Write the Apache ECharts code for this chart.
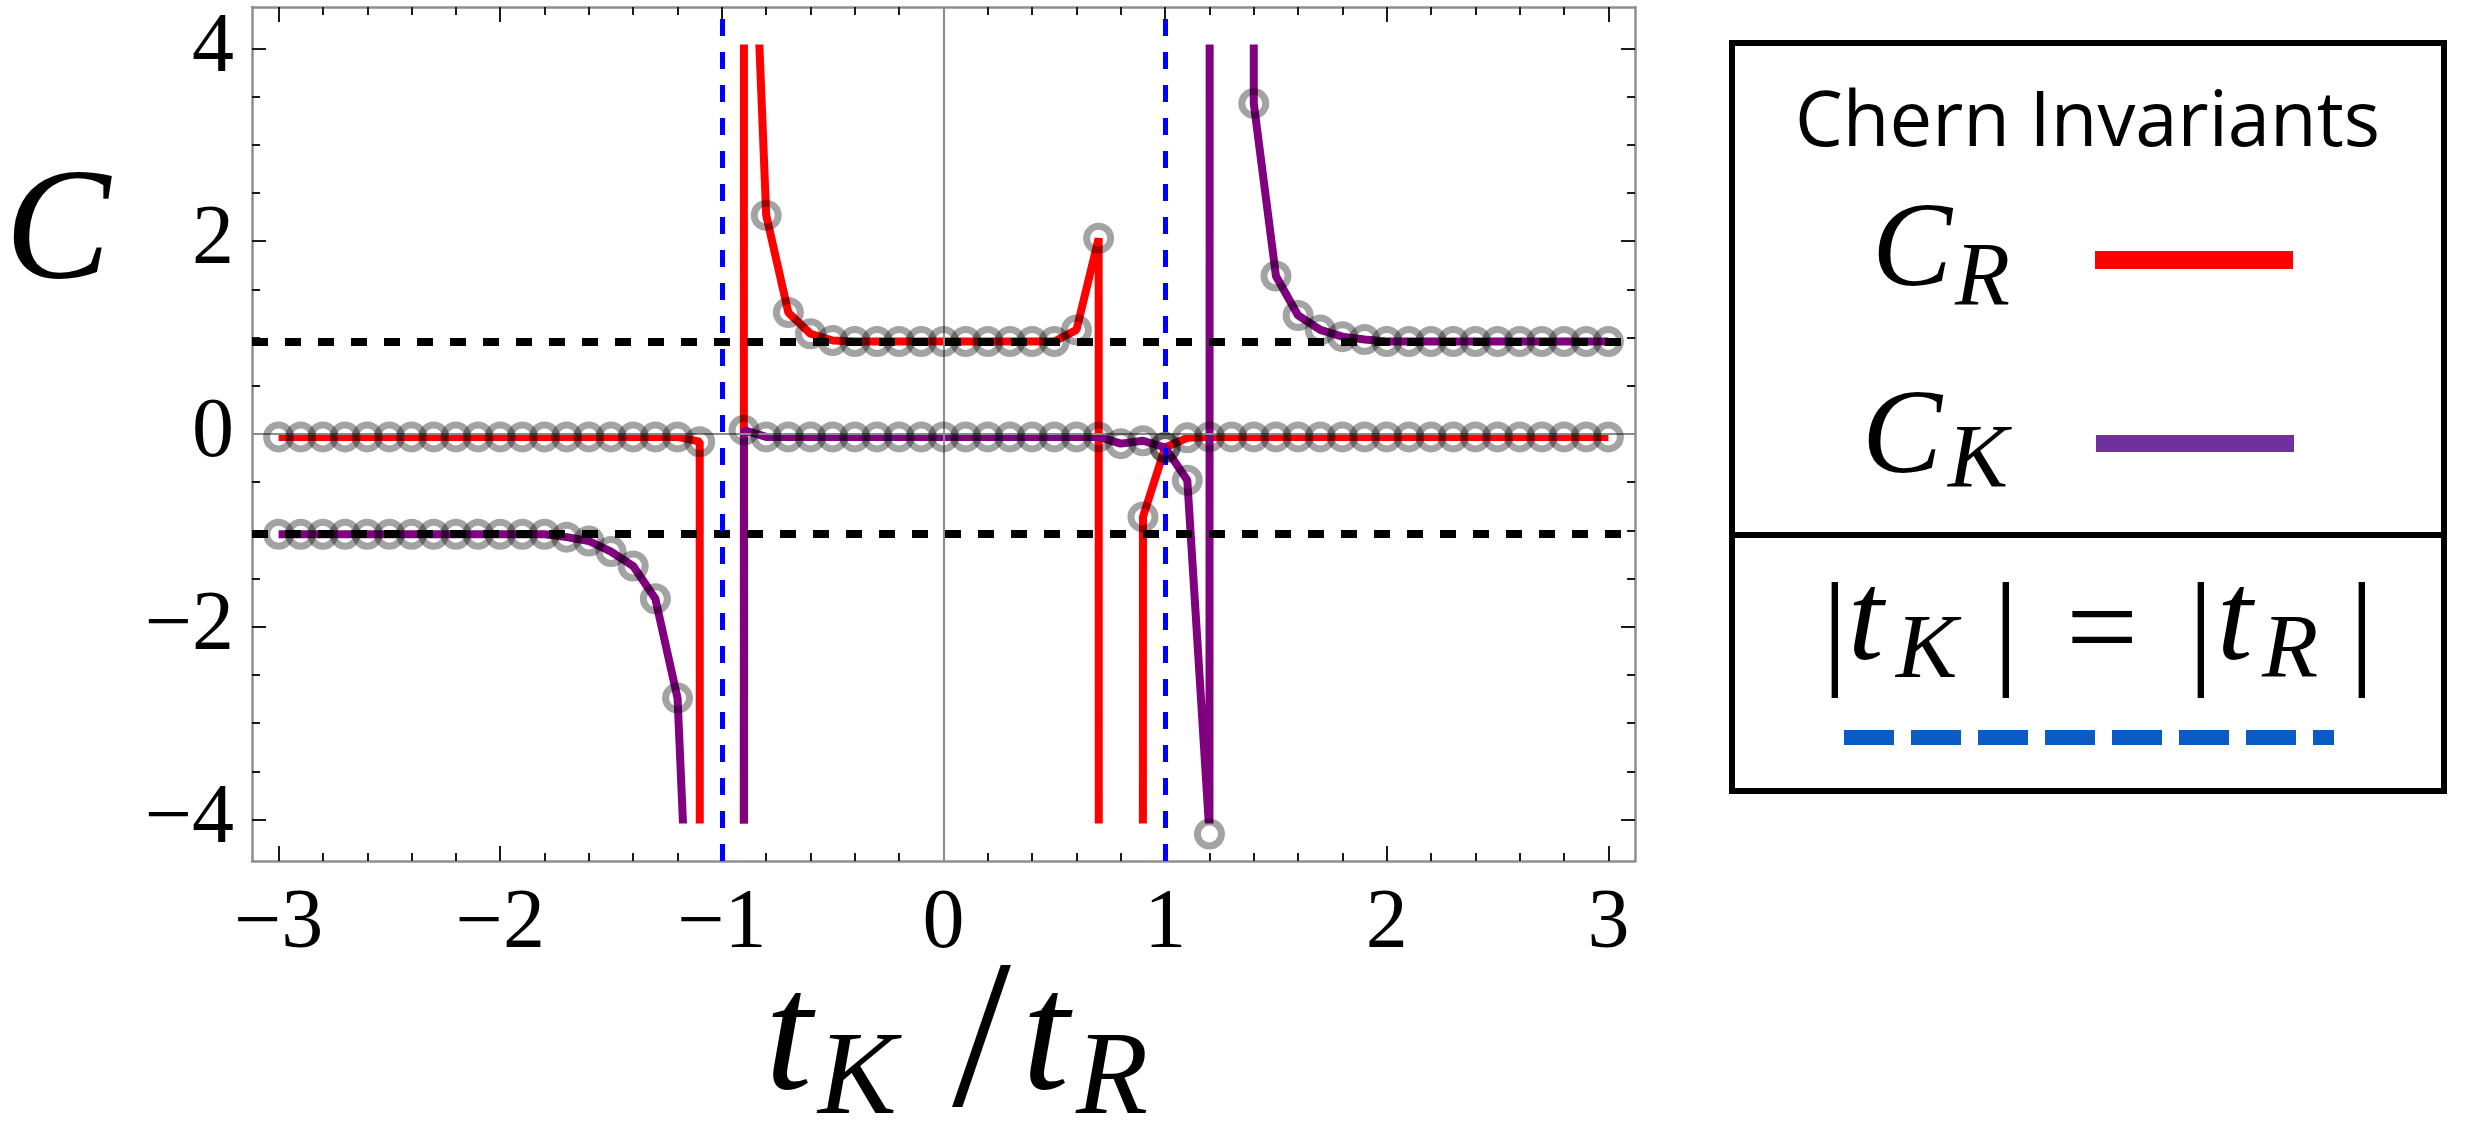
<!DOCTYPE html>
<html>
<head>
<meta charset="utf-8">
<title>Chern invariants</title>
<script src="https://cdn.jsdelivr.net/npm/echarts@6/dist/echarts.min.js"></script>
<style>
  html, body { margin: 0; padding: 0; background: #fff; }
  #chart { width: 2475px; height: 1133px; }
</style>
</head>
<body>
<div id="chart"></div>
<script>
// t_K / t_R, one point every 0.1
var ratio = [-3.0, -2.9, -2.8, -2.7, -2.6, -2.5, -2.4, -2.3, -2.2, -2.1,
             -2.0, -1.9, -1.8, -1.7, -1.6, -1.5, -1.4, -1.3, -1.2, -1.1,
             -1.0, -0.9, -0.8, -0.7, -0.6, -0.5, -0.4, -0.3, -0.2, -0.1,
              0.0,  0.1,  0.2,  0.3,  0.4,  0.5,  0.6,  0.7,  0.8,  0.9,
              1.0,  1.1,  1.2,  1.3,  1.4,  1.5,  1.6,  1.7,  1.8,  1.9,
              2.0,  2.1,  2.2,  2.3,  2.4,  2.5,  2.6,  2.7,  2.8,  2.9, 3.0];

// C_R (red). +-1000 marks the divergent points that run off the plot
var chernR = [-0.03, -0.03, -0.03, -0.03, -0.03, -0.03, -0.03, -0.03, -0.03, -0.03,
              -0.03, -0.03, -0.03, -0.03, -0.03, -0.03, -0.03, -0.03, -0.03, -0.08,
              -1000, 8.0, 2.27, 1.26, 1.04, 0.97, 0.96, 0.96, 0.96, 0.96,
               0.96, 0.96, 0.96, 0.96, 0.96, 0.96, 1.08, 2.03, -1000, -0.86,
              -0.14, -0.04, -0.03, -0.03, -0.03, -0.03, -0.03, -0.03, -0.03, -0.03,
              -0.03, -0.03, -0.03, -0.03, -0.03, -0.03, -0.03, -0.03, -0.03, -0.03, -0.03];

// C_K (purple)
var chernK = [-1.04, -1.04, -1.04, -1.04, -1.04, -1.04, -1.04, -1.04, -1.04, -1.04,
              -1.04, -1.04, -1.04, -1.07, -1.11, -1.22, -1.37, -1.71, -2.74, -8.0,
              -1000, 0.04, -0.03, -0.03, -0.03, -0.03, -0.03, -0.03, -0.03, -0.03,
              -0.03, -0.03, -0.03, -0.03, -0.03, -0.03, -0.03, -0.03, -0.10, -0.07,
              -0.14, -0.48, -4.15, 1000, 3.43, 1.64, 1.23, 1.08, 1.01, 0.98,
               0.96, 0.96, 0.96, 0.96, 0.96, 0.96, 0.96, 0.96, 0.96, 0.96, 0.96];

var xMajor = [-3, -2, -1, 0, 1, 2, 3];
var xMinor = [-2.8, -2.6, -2.4, -2.2, -1.8, -1.6, -1.4, -1.2, -0.8, -0.6, -0.4, -0.2,
              0.2, 0.4, 0.6, 0.8, 1.2, 1.4, 1.6, 1.8, 2.2, 2.4, 2.6, 2.8];
var yMajor = [-4, -2, 0, 2, 4];
var yMinor = [-3.5, -3, -2.5, -1.5, -1, -0.5, 0.5, 1, 1.5, 2.5, 3, 3.5];

var plateaus = [0.96, -1.04];     // black dashed levels
var critical = [-1, 1];           // |t_K| = |t_R|

var xRange = [-3.12, 3.12];
var yRange = [-4.43, 4.43];
var yClip = 4;                    // curves are cut at the plot range

var box = {left: 252, top: 7, width: 1383, height: 854};
var clipTop = box.top + (yRange[1] - yClip) / (yRange[1] - yRange[0]) * box.height;
var clipHeight = 2 * yClip / (yRange[1] - yRange[0]) * box.height;

function pairs(ys) {
    return ratio.map(function (x, i) { return [x, ys[i]]; });
}
function fmt(v) {
    return v < 0 ? '\u2212' + Math.abs(v) : String(v);
}

function frameAxis(gridIndex, position, range, ticks, len, main) {
    var labelled = main && (position === 'bottom' || position === 'left');
    return {
        type: 'value', gridIndex: gridIndex, position: position,
        min: range[0], max: range[1],
        axisLine: {show: main, onZero: false, lineStyle: {color: '#8e8e8e', width: 2.5}},
        axisTick: {show: true, inside: true, length: len, customValues: ticks,
                   lineStyle: {color: '#1a1a1a', width: 2}},
        axisLabel: {show: labelled, customValues: ticks, formatter: fmt,
                    margin: position === 'left' ? 18 : 22,
                    fontFamily: 'Liberation Serif', fontSize: 84, color: '#000'},
        splitLine: {show: false}
    };
}
function hiddenAxis(gridIndex, range) {
    return {type: 'value', gridIndex: gridIndex, min: range[0], max: range[1], show: false};
}

var ringStyle = {color: 'rgba(0,0,0,0)', borderColor: 'rgba(0,0,0,0.45)', borderWidth: 7};

// x, y: left edge and vertical middle of the glyph box
function mathText(str, x, y, size, italic) {
    return {type: 'text', x: x, y: y - size / 2,
            style: {text: str, fill: '#000',
                    font: (italic ? 'italic ' : '') + size + 'px "Liberation Serif"'}};
}

var chart = echarts.init(document.getElementById('chart'));

var option = {
    animation: false,
    backgroundColor: '#fff',
    grid: [
        {left: box.left, top: box.top, width: box.width, height: box.height},
        {left: box.left, top: box.top, width: box.width, height: box.height},
        {left: box.left, top: clipTop, width: box.width, height: clipHeight}
    ],
    xAxis: [
        frameAxis(0, 'bottom', xRange, xMajor, 15, true),
        frameAxis(0, 'top', xRange, xMajor, 15, true),
        frameAxis(1, 'bottom', xRange, xMinor, 8, false),
        frameAxis(1, 'top', xRange, xMinor, 8, false),
        hiddenAxis(2, xRange)
    ],
    yAxis: [
        frameAxis(0, 'left', yRange, yMajor, 14, true),
        frameAxis(0, 'right', yRange, yMajor, 14, true),
        frameAxis(1, 'left', yRange, yMinor, 8, false),
        frameAxis(1, 'right', yRange, yMinor, 8, false),
        hiddenAxis(2, [-yClip, yClip])
    ],
    series: [
        {   // zero axes
            type: 'line', xAxisIndex: 0, yAxisIndex: 0, data: [], z: 1,
            markLine: {silent: true, symbol: ['none', 'none'], label: {show: false},
                       lineStyle: {color: '#8a8a8a', width: 2, type: 'solid'},
                       data: [{xAxis: 0}, {yAxis: 0}]}
        },
        {
            name: 'C_R', type: 'line', xAxisIndex: 4, yAxisIndex: 4,
            data: pairs(chernR), showSymbol: false, symbol: 'none', clip: true, z: 3,
            lineStyle: {color: '#ff0000', width: 8}
        },
        {
            name: 'C_K', type: 'line', xAxisIndex: 4, yAxisIndex: 4,
            data: pairs(chernK), showSymbol: false, symbol: 'none', clip: true, z: 3,
            lineStyle: {color: '#800080', width: 8}
        },
        {   // reference lines
            type: 'line', xAxisIndex: 0, yAxisIndex: 0, data: [], z: 4,
            markLine: {silent: true, symbol: ['none', 'none'], label: {show: false},
                       data: plateaus.map(function (v) {
                           return {yAxis: v, lineStyle: {color: '#000', width: 8, type: [16, 17]}};
                       }).concat(critical.map(function (v) {
                           return {xAxis: v, lineStyle: {color: '#0000ff', width: 5, type: [17, 16]}};
                       }))}
        },
        {
            type: 'scatter', xAxisIndex: 0, yAxisIndex: 0, data: pairs(chernR),
            symbol: 'circle', symbolSize: 24, itemStyle: ringStyle, clip: true, z: 5
        },
        {
            type: 'scatter', xAxisIndex: 0, yAxisIndex: 0, data: pairs(chernK),
            symbol: 'circle', symbolSize: 24, itemStyle: ringStyle, clip: true, z: 5
        }
    ],
    graphic: [
        // axis titles
        mathText('C', 5, 236, 158, true),
        mathText('t', 765, 1043, 170, true),
        mathText('K', 818, 1082, 118, true),
        mathText('/', 952, 1049, 212, false),
        mathText('t', 1022, 1043, 170, true),
        mathText('R', 1076, 1082, 118, true),

        // legend box
        {type: 'rect', shape: {x: 1732, y: 43, width: 712, height: 748},
         style: {fill: 'none', stroke: '#000', lineWidth: 6}},
        {type: 'line', shape: {x1: 1732, y1: 535, x2: 2444, y2: 535},
         style: {stroke: '#000', lineWidth: 6}},
        {type: 'text', x: 1795, y: 124 - 38,
         style: {text: 'Chern Invariants', fill: '#000', font: '76px "Open Sans"'}},
        mathText('C', 1872, 253, 120, true),
        mathText('R', 1955, 281, 90, true),
        {type: 'line', shape: {x1: 2095, y1: 260, x2: 2293, y2: 260},
         style: {stroke: '#ff0000', lineWidth: 18}},
        mathText('C', 1862, 440, 120, true),
        mathText('K', 1948, 463, 90, true),
        {type: 'line', shape: {x1: 2096, y1: 443.5, x2: 2294, y2: 443.5},
         style: {stroke: '#7030a0', lineWidth: 17}},

        mathText('|', 1822, 637, 128, false),
        mathText('t', 1848, 625, 128, true),
        mathText('K', 1896, 653, 92, true),
        mathText('|', 1993, 637, 128, false),
        mathText('=', 2066, 635, 128, false),
        mathText('|', 2188, 637, 128, false),
        mathText('t', 2217, 625, 128, true),
        mathText('R', 2262, 653, 92, true),
        mathText('|', 2349, 637, 128, false),
        {type: 'line', shape: {x1: 1844, y1: 737.5, x2: 2334, y2: 737.5},
         style: {stroke: '#0a5bc4', lineWidth: 15, lineDash: [50, 17]}}
    ]
};

chart.setOption(option);
</script>
</body>
</html>
